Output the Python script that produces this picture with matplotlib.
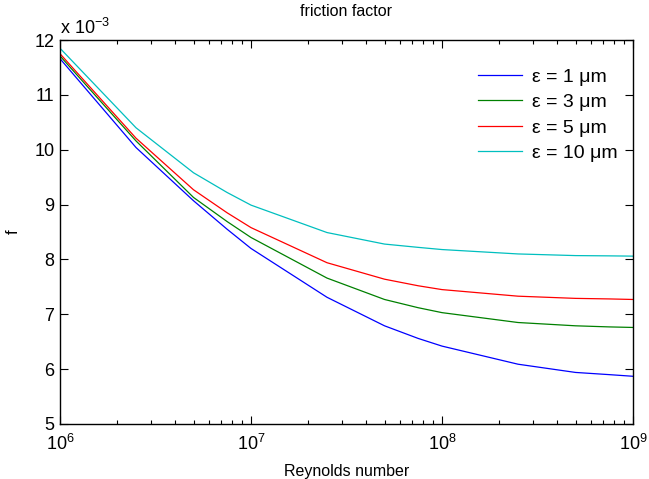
import matplotlib
matplotlib.use('Agg')
import matplotlib.pyplot as plot
from matplotlib.ticker import FuncFormatter, LogLocator

# Reynolds numbers where the friction factor was evaluated
reynolds = [1e6, 2.5e6, 5e6, 7.5e6, 1e7, 2.5e7, 5e7, 7.5e7,
            1e8, 2.5e8, 5e8, 7.5e8, 1e9]

# friction factor (units of 1e-3)
f_1um = [11.66, 10.04, 9.07, 8.55, 8.20, 7.31, 6.79, 6.56,
         6.42, 6.09, 5.94, 5.90, 5.87]
f_3um = [11.71, 10.16, 9.13, 8.69, 8.40, 7.66, 7.27, 7.12,
         7.03, 6.85, 6.79, 6.77, 6.76]
f_5um = [11.75, 10.21, 9.27, 8.85, 8.58, 7.94, 7.64, 7.52,
         7.45, 7.33, 7.29, 7.28, 7.27]
f_10um = [11.85, 10.40, 9.58, 9.22, 8.99, 8.49, 8.28, 8.22,
          8.18, 8.10, 8.07, 8.065, 8.06]

labels = ['ε = 1 μm', 'ε = 3 μm', 'ε = 5 μm', 'ε = 10 μm']
colors = ['#0000ff', '#008000', '#ff0000', '#00bfbf']

plot.rcParams['font.family'] = ['Liberation Sans', 'DejaVu Sans']
plot.rcParams['font.size'] = 11
plot.rcParams['mathtext.fontset'] = 'custom'
plot.rcParams['mathtext.rm'] = 'Liberation Sans'
plot.rcParams['mathtext.it'] = 'Liberation Sans'

figure = plot.figure(figsize=(6.49, 4.79), dpi=100)
axis = figure.add_axes([60 / 649, 55 / 479, 573 / 649, 384 / 479])

for series, label, color in zip([f_1um, f_3um, f_5um, f_10um], labels, colors):
    axis.plot(reynolds, [v * 1e-3 for v in series], color=color, lw=0.9, label=label)

axis.set_xscale('log')
axis.set_xlim(1e6, 1e9)
axis.set_ylim(5e-3, 12e-3)
axis.set_yticks([v * 1e-3 for v in range(5, 13)])
axis.yaxis.set_major_formatter(FuncFormatter(lambda v, p: '{:g}'.format(round(v * 1e3, 6))))
axis.xaxis.set_minor_locator(LogLocator(base=10, subs=range(2, 10)))

axis.tick_params(which='both', direction='in', top=True, right=True, width=0.8)
axis.tick_params(which='major', length=6, labelsize=13, pad=4)
axis.tick_params(axis='x', which='major', pad=7)
axis.tick_params(which='minor', length=3)
for spine in axis.spines.values():
    spine.set_linewidth(1.0)

axis.text(0.0, 1.005, r'x 10$^{-3}$', transform=axis.transAxes,
          fontsize=13, ha='left', va='bottom')
axis.set_title('friction factor', fontsize=11.5, pad=17)
axis.set_xlabel('Reynolds number', fontsize=11.5, labelpad=7)
axis.set_ylabel('f', fontsize=12, labelpad=10)

legend = axis.legend(loc='upper right', frameon=False, fontsize=14,
                     handlelength=2.3, handletextpad=0.5, labelspacing=0.4,
                     bbox_to_anchor=(1.004, 0.972))

figure.savefig('out.png', dpi=100)
